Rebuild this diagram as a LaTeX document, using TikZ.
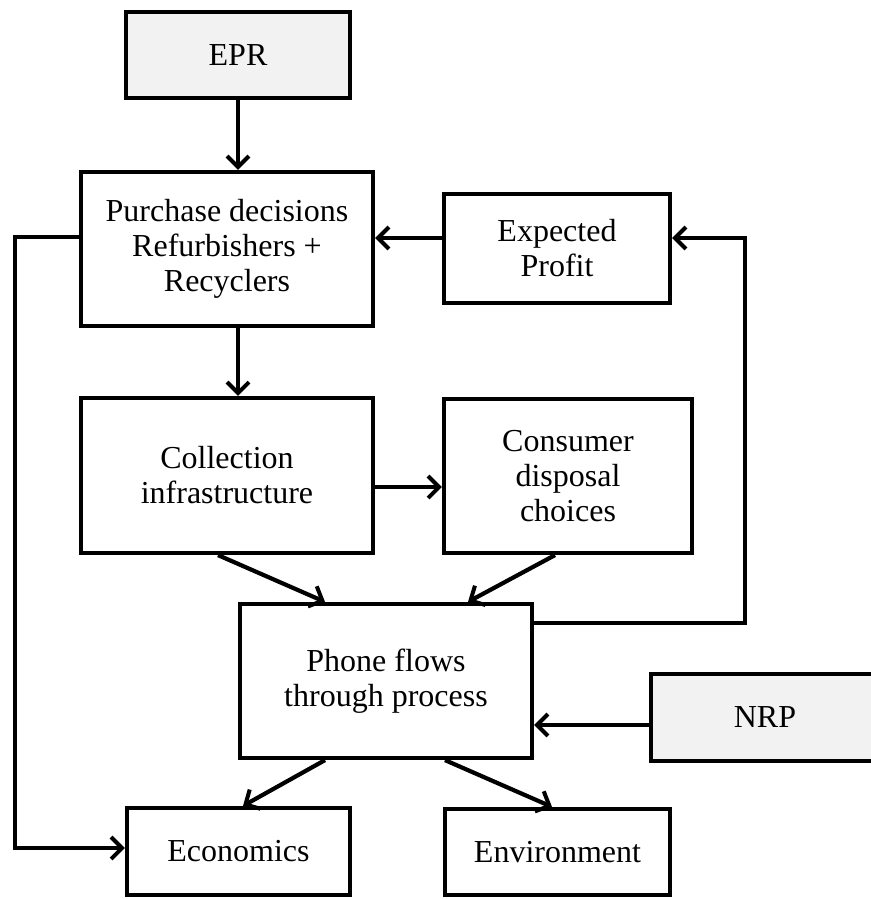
\documentclass[tikz,border=0pt]{standalone}
\usepackage{fontspec}
\setmainfont{Liberation Serif}
\usetikzlibrary{arrows.meta}
\definecolor{boxgray}{HTML}{F2F2F2}
\begin{document}
\begin{tikzpicture}[x=1pt,y=-1pt,
  every node/.style={font=\fontsize{32}{35}\selectfont, align=center, inner sep=0pt},
  blk/.style={draw, line width=4.2pt, rectangle},
  src/.style={blk, fill=boxgray},
  flow/.style={line width=4.2pt, -{Straight Barb[length=11pt,width=22pt,line width=4pt]}}]
\useasboundingbox (0,0) rectangle (870,899);

% boxes
\node[src, minimum width=224pt, minimum height=86pt] (epr) at (238,55) {EPR};
\node[blk, minimum width=292pt, minimum height=154pt] (purch) at (227,249)
  {Purchase decisions\\Refurbishers +\\Recyclers};
\node[blk, minimum width=226pt, minimum height=109pt] (profit) at (557,248.5)
  {Expected\\Profit};
\node[blk, minimum width=292pt, minimum height=155pt] (coll) at (227,475.5)
  {Collection\\infrastructure};
\node[blk, minimum width=248pt, minimum height=154pt] (cons) at (568,476)
  {Consumer\\disposal\\choices};
\node[blk, minimum width=292pt, minimum height=154pt] (phone) at (386,681)
  {Phone flows\\through process};
\node[src, minimum width=228pt, minimum height=87pt] (nrp) at (765,717.5) {NRP};
\node[blk, minimum width=223pt, minimum height=87pt] (econ) at (238.5,851.5) {Economics};
\node[blk, minimum width=225pt, minimum height=86pt] (env) at (557.5,852) {Environment};

% routing points
\coordinate (lft) at (15,0);
\coordinate (rgt) at (745,0);

% connectors
\draw[flow] (epr.south) -- (epr.south |- purch.north);
\draw[flow] (epr.south |- purch.south) -- (epr.south |- coll.north);
\draw[flow] ([yshift=10.5pt]profit.west) -- ([yshift=10.5pt]profit.west -| purch.east);
\draw[flow] ([yshift=58pt]phone.east) -| ([yshift=10.5pt]profit.east -| rgt)
  -- ([yshift=10.5pt]profit.east);
\draw[flow] ([yshift=12pt]purch.west) -| ([yshift=3.5pt]econ.west -| lft)
  -- ([yshift=3.5pt]econ.west);
\draw[flow] ([yshift=-11.5pt]coll.east) -- ([yshift=-11.5pt]coll.east -| cons.west);
\draw[flow] ([xshift=-9pt]coll.south) -- ([xshift=-61pt]phone.north);
\draw[flow] ([xshift=-13pt]cons.south) -- ([xshift=82pt]phone.north);
\draw[flow] ([yshift=-7.5pt]nrp.west) -- ([yshift=-7.5pt]nrp.west -| phone.east);
\draw[flow] ([xshift=-61pt]phone.south) -- ([xshift=4.5pt]econ.north);
\draw[flow] ([xshift=59pt]phone.south) -- ([xshift=-5.5pt]env.north);
\end{tikzpicture}
\end{document}
